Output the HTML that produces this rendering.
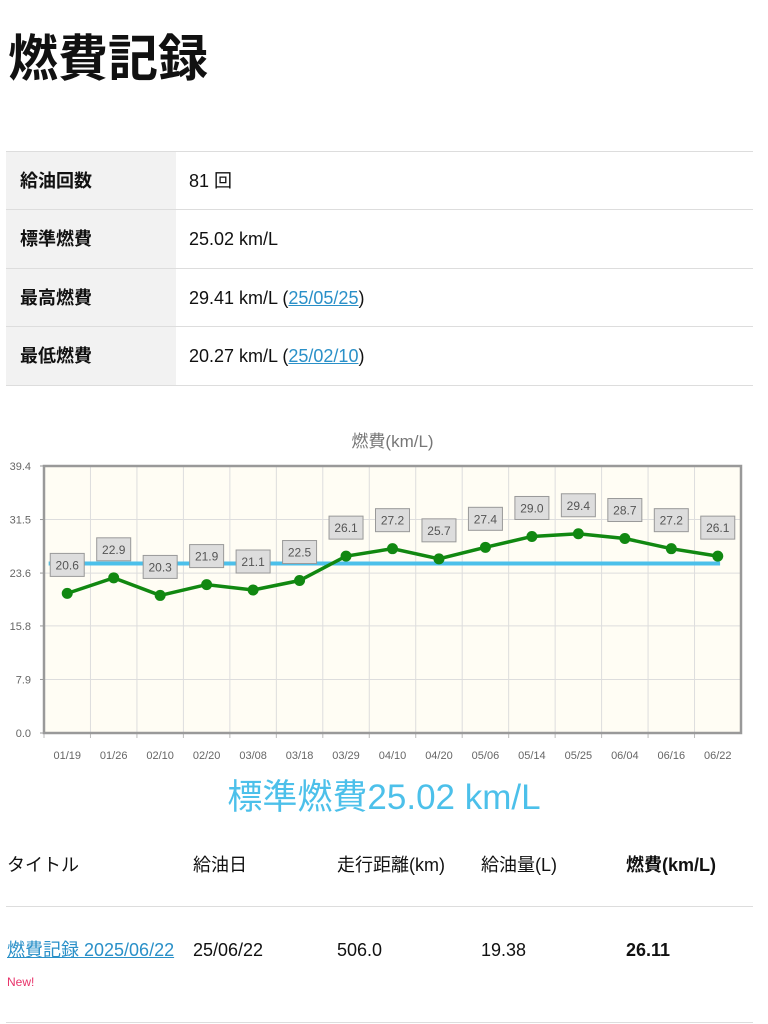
<!DOCTYPE html>
<html><head><meta charset="utf-8">
<style>
body{margin:0;width:768px;height:1024px;background:#fff;font-family:"Liberation Sans","Noto Sans CJK JP",sans-serif;color:#111;position:relative;overflow:hidden}
.abs{position:absolute}
h1{position:absolute;left:8px;top:24px;margin:0;font-size:50px;font-weight:bold;line-height:70px}
.row{position:absolute;left:6px;width:747px;height:58px;border-top:1px solid #ddd;font-size:18px}
.row .k{position:absolute;left:0;top:0;width:170px;height:58px;background:#f2f2f2;font-weight:bold;line-height:58px;padding-left:14px;box-sizing:border-box}
.row .v{position:absolute;left:183px;top:0;line-height:58px}
a{color:#2a90c8;text-decoration:underline}
.th{position:absolute;top:852px;font-size:18px;line-height:26px}
.td{position:absolute;top:937px;font-size:18px;line-height:26px}
</style></head><body>
<h1>燃費記録</h1>
<div class="row" style="top:151px"><div class="k">給油回数</div><div class="v">81 回</div></div>
<div class="row" style="top:209px"><div class="k">標準燃費</div><div class="v">25.02 km/L</div></div>
<div class="row" style="top:268px"><div class="k">最高燃費</div><div class="v">29.41 km/L (<a>25/05/25</a>)</div></div>
<div class="row" style="top:326px;border-bottom:1px solid #ddd"><div class="k">最低燃費</div><div class="v">20.27 km/L (<a>25/02/10</a>)</div></div>

<svg class="abs" style="left:0;top:420px" width="768" height="360" viewBox="0 420 768 360" id="chart"></svg>

<div class="abs" style="left:0;width:768px;top:774px;text-align:center;font-size:35px;color:#4cc0ea;line-height:48px">標準燃費25.02 km/L</div>

<div class="th" style="left:7px">タイトル</div>
<div class="th" style="left:193px">給油日</div>
<div class="th" style="left:337px">走行距離(km)</div>
<div class="th" style="left:481px">給油量(L)</div>
<div class="th" style="left:626px;font-weight:bold">燃費(km/L)</div>
<div class="abs" style="left:6px;width:747px;top:906px;border-top:1px solid #ddd"></div>
<div class="td" style="left:7px;width:175px;line-height:30px;top:935px"><a>燃費記録 2025/06/22</a> <span style="color:#e8336a;font-size:12px">New!</span></div>
<div class="td" style="left:193px">25/06/22</div>
<div class="td" style="left:337px">506.0</div>
<div class="td" style="left:481px">19.38</div>
<div class="td" style="left:626px;font-weight:bold">26.11</div>
<div class="abs" style="left:6px;width:747px;top:1022px;border-top:1px solid #ddd"></div>

<script>
const categories=["01/19","01/26","02/10","02/20","03/08","03/18","03/29","04/10","04/20","05/06","05/14","05/25","06/04","06/16","06/22"];
const values=[20.6,22.9,20.3,21.9,21.1,22.5,26.1,27.2,25.7,27.4,29.0,29.4,28.7,27.2,26.1];
const yTicks=[0.0,7.9,15.8,23.6,31.5,39.4];
const average=[25.02];
const yMax=39.4;
const L=44,R=741,T=466,B=733;
const NS="http://www.w3.org/2000/svg";
const svg=document.getElementById('chart');
const bw=(R-L)/categories.length;
const x=i=>L+bw*(i+0.5);
const y=v=>B-v/yMax*(B-T);
function mk(t,a,txt){const e=document.createElementNS(NS,t);for(const k in a)e.setAttribute(k,a[k]);if(txt!=null)e.textContent=txt;svg.appendChild(e);return e;}
let e=mk('rect',{x:L,y:T,width:R-L,height:B-T,fill:'#fffdf4'});


e=mk('text',{x:(L+R)/2,y:447,'text-anchor':'middle','font-size':17,fill:'#777'},'燃費(km/L)');


yTicks.forEach(t=>{
 mk('line',{x1:L,x2:R,y1:y(t),y2:y(t),stroke:'#ddd','stroke-width':1});
 mk('line',{x1:L-4,x2:L,y1:y(t),y2:y(t),stroke:'#999'});
 const tx=mk('text',{x:31,y:y(t)+4,'text-anchor':'end','font-size':11,fill:'#666'},t.toFixed(1));
 
 
});
categories.forEach((c,i)=>{
 const gx=L+bw*(i+1);
 if(i<categories.length-1)mk('line',{x1:gx,x2:gx,y1:T,y2:B,stroke:'#ddd'});
 mk('line',{x1:L+bw*i,x2:L+bw*i,y1:B,y2:B+5,stroke:'#bbb'});
 const tx=mk('text',{x:x(i),y:759,'text-anchor':'middle','font-size':11,fill:'#666'},c);
 
 
});
mk('rect',{x:L,y:T,width:R-L,height:B-T,fill:'none',stroke:'#999','stroke-width':2.5});
e=mk('line',{x1:L+bw*0.1,x2:R-bw*0.45,y1:y(average[0]),y2:y(average[0]),stroke:'#4cc0ea','stroke-width':4});


e=mk('polyline',{points:values.map((v,i)=>x(i)+','+y(v)).join(' '),fill:'none',stroke:'#118811','stroke-width':3.5});


values.forEach((v,i)=>{
 const p=mk('circle',{cx:x(i),cy:y(v),r:5.5,fill:'#118811'});
 
 
 const by=y(v)-40;
 const b=mk('rect',{x:x(i)-17,y:by,width:34,height:23,fill:'#ddd',stroke:'#999'});
 
 
 const t=mk('text',{x:x(i),y:by+16,'text-anchor':'middle','font-size':12,fill:'#555'},v.toFixed(1));
 
 
});
</script>
</body></html>
